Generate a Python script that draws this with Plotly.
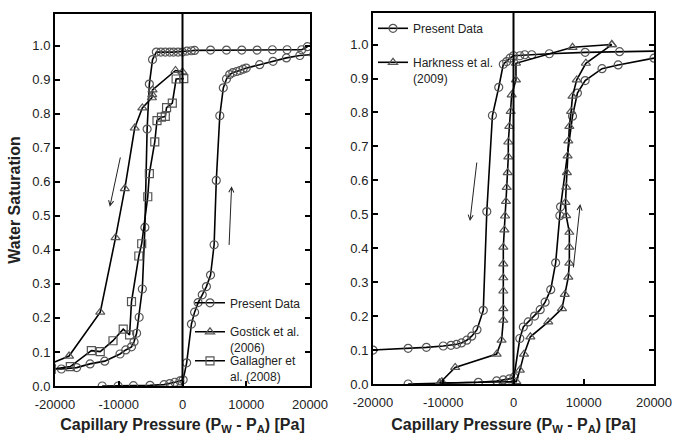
import plotly.graph_objects as go

# ---------------- data (left panel) ----------------
present_drain_L_x = [19600, 18700, 16400, 14100, 11700, 9300, 6900, 4400, 1900, 1400, 700, 0,
                     -700, -1400, -2000, -2700, -3400, -4100, -4700, -5200, -5550, -5900, -6300,
                     -6800, -7200, -7600, -8000, -8900, -9800, -12200, -14500, -16600, -19000, -20600]
present_drain_L_y = [0.997, 0.988, 0.988, 0.988, 0.987, 0.987, 0.987, 0.987, 0.986, 0.985, 0.984, 0.981,
                     0.981, 0.981, 0.981, 0.981, 0.981, 0.981, 0.959, 0.887, 0.755, 0.466, 0.285,
                     0.202, 0.155, 0.130, 0.115, 0.106, 0.094, 0.073, 0.065, 0.054, 0.050, 0.050]

present_imb_L_x = [-12600, -10100, -7700, -5100, -2900, -2000, -1200, -400, 100, 650, 1400, 1900, 2450,
                   3100, 3750, 4400, 4960, 5300, 5850, 6400, 6900, 7400, 7900, 8500, 9000, 9500, 10000,
                   12100, 14200, 16300, 18400, 20600]
present_imb_L_y = [0.0, 0.0, 0.001, 0.002, 0.004, 0.007, 0.011, 0.015, 0.018, 0.068, 0.182, 0.217, 0.245,
                   0.268, 0.292, 0.326, 0.415, 0.604, 0.794, 0.876, 0.902, 0.915, 0.921, 0.924, 0.927,
                   0.931, 0.934, 0.944, 0.954, 0.964, 0.971, 0.974]

gostick_x = [0, -1100, -4700, -4750, -4800, -6300, -7500, -9050, -10500, -12900, -17800, -20600]
gostick_y = [0.923, 0.927, 0.870, 0.856, 0.847, 0.817, 0.758, 0.580, 0.436, 0.217, 0.088, 0.066]

gallagher_x = [200, -1000, -1600, -2500, -2700, -3300, -4000, -4350, -5200, -5450, -6400, -6850,
               -8000, -8300, -9300, -10900, -12900, -14300, -17600, -20600]
gallagher_y = [0.903, 0.902, 0.831, 0.818, 0.792, 0.790, 0.780, 0.717, 0.624, 0.556, 0.418, 0.382,
               0.248, 0.150, 0.167, 0.133, 0.101, 0.104, 0.057, 0.049]

# ---------------- data (right panel) ----------------
present_drain_R_x = [20600, 15100, 10200, 5100, 2600, 1600, 900, 0, -500, -970, -1450, -2100, -3000,
                     -3800, -4300, -5200, -5950, -6650, -7400, -8100, -8900, -10000, -12400, -15000, -20000]
present_drain_R_y = [0.981, 0.979, 0.977, 0.973, 0.970, 0.970, 0.967, 0.967, 0.960, 0.950, 0.942, 0.874,
                     0.791, 0.508, 0.217, 0.160, 0.141, 0.129, 0.121, 0.117, 0.114, 0.112, 0.108, 0.105, 0.100]

present_imb_R_x = [-15000, -5000, -2400, -1450, -600, 70, 900, 1400, 2100, 3000, 3800, 4500, 5300,
                   6000, 6600, 6700, 8400, 9100, 10200, 12600, 14900, 20000]
present_imb_R_y = [0.0, 0.005, 0.009, 0.012, 0.015, 0.020, 0.134, 0.168, 0.183, 0.200, 0.219, 0.241,
                   0.278, 0.357, 0.496, 0.522, 0.789, 0.857, 0.894, 0.929, 0.940, 0.960]

harkness_drain_x = [14000, 8400, 350, 350, -260, -400, -600, -740, -740, -830, -970, -1070, -1200,
                    -1300, -1450, -1450, -1450, -1450, -1450, -1450, -1700, -2400, -8300, -10200, -10500]
harkness_drain_y = [1.0, 0.992, 0.945, 0.896, 0.852, 0.803, 0.759, 0.713, 0.669, 0.623, 0.579, 0.538,
                    0.495, 0.454, 0.403, 0.354, 0.313, 0.274, 0.222, 0.188, 0.129, 0.088, 0.049, 0.007, 0.003]

harkness_imb_x = [-10500, 400, 900, 1500, 2400, 4950, 6900, 7300, 7800, 7950, 7950, 7950, 7500, 7400,
                  7500, 7600, 7700, 7800, 7950, 8200, 8400, 9000, 10300, 14000]
harkness_imb_y = [0.003, 0.007, 0.041, 0.088, 0.139, 0.183, 0.222, 0.264, 0.315, 0.356, 0.403, 0.447,
                  0.496, 0.535, 0.580, 0.623, 0.672, 0.716, 0.759, 0.803, 0.848, 0.896, 0.945, 1.0]

x_tickvals = [-20000, -10000, 0, 10000, 20000]
x_ticktext = ["-20000", "-10000", "0", "10000", "20000"]
y_tickvals = [0.0, 0.1, 0.2, 0.3, 0.4, 0.5, 0.6, 0.7, 0.8, 0.9, 1.0]

# arrows: (tail_x, tail_y, head_x, head_y)
arrows_L = [(-9700, 0.676, -11400, 0.527), (7300, 0.41, 7700, 0.587)]
arrows_R = [(-5200, 0.657, -6200, 0.48), (8500, 0.339, 9500, 0.53)]

# ---------------- styling ----------------
FONT = "Liberation Sans, Arial, sans-serif"
MEDGE = "#555555"
LINE = dict(color="black", width=1.6)


def mk(symbol):
    return dict(symbol=symbol, size=8, color=MEDGE, line=dict(color=MEDGE, width=1.2))


fig = go.Figure()

# left panel
fig.add_trace(go.Scatter(x=present_drain_L_x, y=present_drain_L_y, mode="lines+markers", line=LINE,
                         marker=mk("circle-open"), name="Present Data", legendgroup="pL",
                         legend="legend", xaxis="x", yaxis="y"))
fig.add_trace(go.Scatter(x=present_imb_L_x, y=present_imb_L_y, mode="lines+markers", line=LINE,
                         marker=mk("circle-open"), name="Present Data", legendgroup="pL", showlegend=False,
                         legend="legend", xaxis="x", yaxis="y"))
fig.add_trace(go.Scatter(x=gostick_x, y=gostick_y, mode="lines+markers", line=LINE,
                         marker=mk("triangle-up-open"), name="Gostick et al.<br>(2006)", legendgroup="g1",
                         legend="legend3", xaxis="x", yaxis="y"))
fig.add_trace(go.Scatter(x=gallagher_x, y=gallagher_y, mode="lines+markers", line=LINE,
                         marker=mk("square-open"), name="Gallagher et<br>al. (2008)", legendgroup="g2",
                         legend="legend4", xaxis="x", yaxis="y"))

# right panel
fig.add_trace(go.Scatter(x=present_drain_R_x, y=present_drain_R_y, mode="lines+markers", line=LINE,
                         marker=mk("circle-open"), name="Present Data", legendgroup="pR",
                         legend="legend2", xaxis="x2", yaxis="y2"))
fig.add_trace(go.Scatter(x=present_imb_R_x, y=present_imb_R_y, mode="lines+markers", line=LINE,
                         marker=mk("circle-open"), name="Present Data", legendgroup="pR", showlegend=False,
                         legend="legend2", xaxis="x2", yaxis="y2"))
fig.add_trace(go.Scatter(x=harkness_drain_x, y=harkness_drain_y, mode="lines+markers", line=LINE,
                         marker=mk("triangle-up-open"), name="Harkness et al.<br>(2009)", legendgroup="h",
                         legend="legend5", xaxis="x2", yaxis="y2"))
fig.add_trace(go.Scatter(x=harkness_imb_x, y=harkness_imb_y, mode="lines+markers", line=LINE,
                         marker=mk("triangle-up-open"), name="Harkness et al.<br>(2009)", legendgroup="h",
                         showlegend=False, legend="legend5", xaxis="x2", yaxis="y2"))

W, H = 676, 435
dL = [55 / W, 310 / W]
dR = [373 / W, 654 / W]
yL = [1 - 386 / H, 1 - 14 / H]
yR = [1 - 384 / H, 1 - 13 / H]

xcommon = dict(range=[-20000, 20000], tickvals=x_tickvals, ticktext=x_ticktext, ticks="inside",
               ticklen=5, tickwidth=1.5, tickcolor="black", showline=True, linewidth=2, linecolor="black",
               mirror=True, showgrid=False, zeroline=False, automargin=False, ticklabelstandoff=5,
               tickfont=dict(size=13, color="#222", family=FONT),
               title=dict(text="<b>Capillary Pressure (P<sub>W</sub> - P<sub>A</sub>) [Pa]</b>",
                          font=dict(size=16, color="#222", family=FONT), standoff=22))
ycommon = dict(range=[0, 1.093], tickvals=y_tickvals, tickformat=".1f", ticks="inside", ticklen=5,
               tickwidth=1.5, tickcolor="black", showline=True, linewidth=2, linecolor="black",
               mirror="ticks", showgrid=False, zeroline=False, automargin=False,
               tickfont=dict(size=13, color="#222", family=FONT))


def leg(xpx, ytop):
    return dict(x=xpx / W, y=1 - ytop / H, xanchor="left", yanchor="top", bgcolor="rgba(0,0,0,0)",
                font=dict(size=12, color="#222", family=FONT), itemwidth=30, valign="top")


fig.update_layout(
    width=W, height=H, margin=dict(l=0, r=0, t=0, b=0, autoexpand=False),
    plot_bgcolor="white", paper_bgcolor="white",
    font=dict(family=FONT, color="#222"),
    xaxis=dict(domain=dL, anchor="y", **xcommon),
    yaxis=dict(domain=yL, anchor="x",
               title=dict(text="<b>Water Saturation</b>", font=dict(size=16, color="#222", family=FONT),
                          standoff=8), **ycommon),
    xaxis2=dict(domain=dR, anchor="y2", **xcommon),
    yaxis2=dict(domain=yR, anchor="x2", **ycommon),
    legend=leg(190, 288.5),
    legend3=leg(190, 317.5),
    legend4=leg(190, 346.5),
    legend2=leg(373, 14),
    legend5=leg(373, 48),
    showlegend=True,
)

# vertical zero lines
for xr, yr in [("x", "y domain"), ("x2", "y2 domain")]:
    fig.add_shape(type="line", xref=xr, yref=yr, x0=0, x1=0, y0=0, y1=1,
                  line=dict(color="black", width=2))

# arrows
for (tx, ty, hx, hy) in arrows_L:
    fig.add_annotation(x=hx, y=hy, ax=tx, ay=ty, xref="x", yref="y", axref="x", ayref="y",
                       showarrow=True, arrowhead=5, arrowsize=1, arrowwidth=1, arrowcolor="#222", text="")
for (tx, ty, hx, hy) in arrows_R:
    fig.add_annotation(x=hx, y=hy, ax=tx, ay=ty, xref="x2", yref="y2", axref="x2", ayref="y2",
                       showarrow=True, arrowhead=5, arrowsize=1, arrowwidth=1, arrowcolor="#222", text="")

fig.write_html("out.html")
